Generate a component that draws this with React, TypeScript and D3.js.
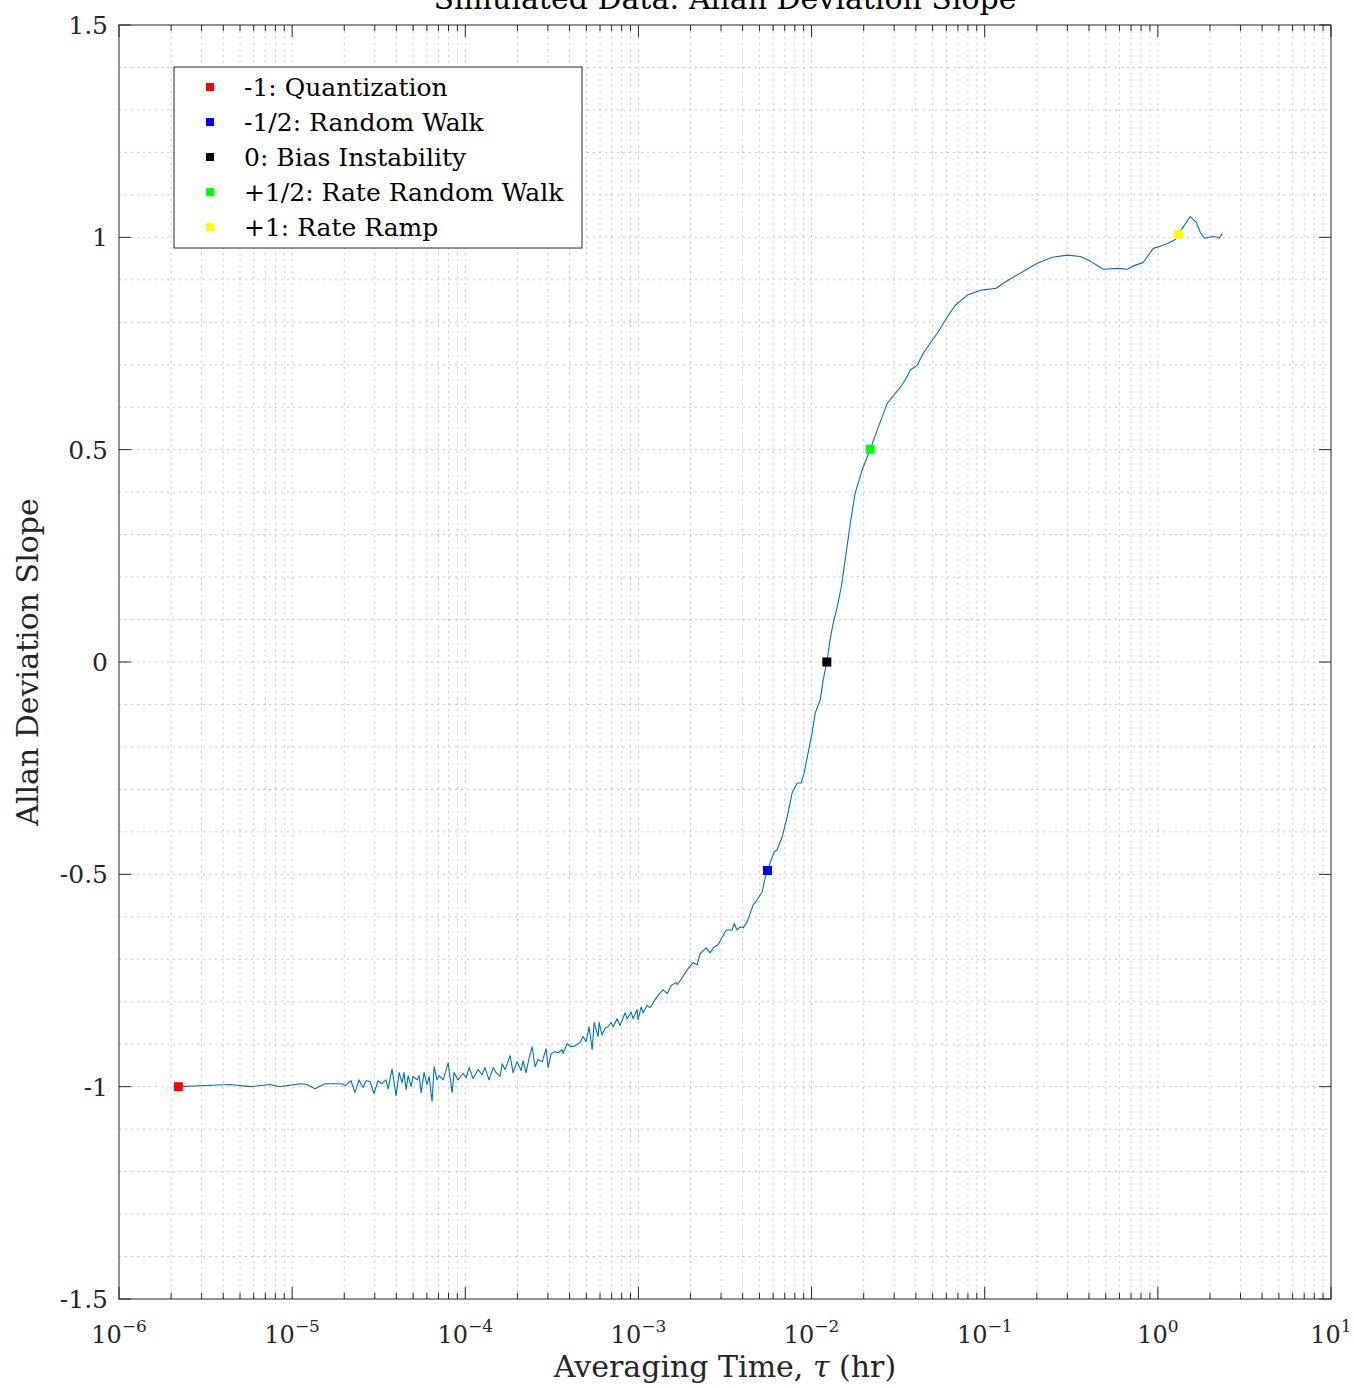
import React from 'react';
import * as d3 from 'd3';

// averaging time, stored as log10(tau / hr)
const tauExp = [
  -5.657, -5.532, -5.359, -5.243, -5.128, -5.070, -4.954, -4.914, -4.868, -4.810,
  -4.712, -4.694, -4.660, -4.637, -4.614, -4.590, -4.573, -4.550, -4.527, -4.504,
  -4.481, -4.458, -4.446, -4.423, -4.400, -4.382, -4.365, -4.354, -4.342, -4.330,
  -4.313, -4.302, -4.278, -4.267, -4.255, -4.238, -4.221, -4.209, -4.192, -4.180,
  -4.163, -4.151, -4.128, -4.099, -4.076, -4.065, -4.042, -4.013, -3.995, -3.978,
  -3.955, -3.926, -3.903, -3.886, -3.863, -3.839, -3.822, -3.799, -3.787, -3.770,
  -3.741, -3.724, -3.701, -3.678, -3.666, -3.649, -3.631, -3.614, -3.597, -3.579,
  -3.556, -3.533, -3.522, -3.504, -3.481, -3.464, -3.441, -3.435, -3.412, -3.389,
  -3.366, -3.337, -3.320, -3.302, -3.285, -3.267, -3.256, -3.233, -3.227, -3.210,
  -3.192, -3.175, -3.158, -3.146, -3.123, -3.106, -3.077, -3.065, -3.042, -3.031,
  -3.008, -3.002, -2.984, -2.973, -2.950, -2.932, -2.904, -2.875, -2.857, -2.834,
  -2.811, -2.782, -2.776, -2.748, -2.719, -2.684, -2.661, -2.644, -2.609, -2.586,
  -2.563, -2.540, -2.493, -2.459, -2.447, -2.430, -2.413, -2.395, -2.372, -2.337,
  -2.314, -2.285, -2.268, -2.255, -2.239, -2.216, -2.199, -2.170, -2.141, -2.112,
  -2.083, -2.060, -2.043, -2.020, -1.997, -1.979, -1.950, -1.933, -1.912, -1.893,
  -1.875, -1.852, -1.829, -1.806, -1.777, -1.748, -1.708, -1.661, -1.621, -1.563,
  -1.529, -1.488, -1.459, -1.430, -1.390, -1.355, -1.274, -1.217, -1.170, -1.101,
  -1.026, -0.934, -0.893, -0.835, -0.697, -0.610, -0.523, -0.448, -0.391, -0.315,
  -0.235, -0.177, -0.131, -0.084, -0.027, 0.014, 0.060, 0.101, 0.118, 0.141,
  0.187, 0.222, 0.245, 0.268, 0.297, 0.320, 0.343, 0.355, 0.372,
];

const slope = [
  -1.000, -0.998, -0.995, -1.000, -0.995, -1.000, -0.993, -0.995, -1.005, -0.993,
  -0.993, -0.998, -0.986, -1.014, -0.984, -1.002, -0.986, -0.988, -1.016, -0.986,
  -0.993, -0.984, -1.005, -0.958, -1.021, -0.967, -0.991, -0.967, -1.007, -0.974,
  -1.000, -0.976, -0.984, -0.974, -1.014, -0.967, -0.995, -0.976, -1.035, -0.953,
  -0.984, -0.974, -0.984, -0.944, -1.014, -0.967, -0.984, -0.969, -0.979, -0.955,
  -0.981, -0.960, -0.972, -0.955, -0.984, -0.955, -0.967, -0.976, -0.946, -0.960,
  -0.927, -0.967, -0.941, -0.962, -0.939, -0.967, -0.932, -0.906, -0.953, -0.936,
  -0.941, -0.911, -0.955, -0.922, -0.918, -0.920, -0.913, -0.922, -0.899, -0.906,
  -0.904, -0.896, -0.882, -0.894, -0.859, -0.913, -0.849, -0.882, -0.849, -0.878,
  -0.862, -0.859, -0.849, -0.859, -0.840, -0.856, -0.826, -0.840, -0.824, -0.840,
  -0.819, -0.842, -0.812, -0.826, -0.809, -0.814, -0.795, -0.779, -0.772, -0.781,
  -0.762, -0.755, -0.760, -0.744, -0.725, -0.708, -0.713, -0.687, -0.673, -0.685,
  -0.671, -0.666, -0.631, -0.631, -0.616, -0.631, -0.624, -0.626, -0.612, -0.572,
  -0.560, -0.541, -0.508, -0.491, -0.473, -0.447, -0.442, -0.412, -0.365, -0.308,
  -0.285, -0.285, -0.261, -0.214, -0.167, -0.120, -0.089, -0.042, 0.000, 0.052,
  0.092, 0.129, 0.176, 0.240, 0.325, 0.398, 0.452, 0.501, 0.546, 0.609,
  0.626, 0.647, 0.664, 0.687, 0.699, 0.727, 0.774, 0.812, 0.840, 0.864,
  0.875, 0.880, 0.892, 0.906, 0.939, 0.953, 0.958, 0.955, 0.944, 0.925,
  0.927, 0.925, 0.934, 0.941, 0.974, 0.979, 0.986, 0.995, 1.007, 1.021,
  1.049, 1.035, 1.012, 0.998, 1.000, 1.002, 1.000, 0.998, 1.009,
];

const markerTau = [2.2e-6, 5.56e-3, 1.225e-2, 2.18e-2, 1.31];
const markerSlope = [-1.0, -0.491, 0.0, 0.501, 1.007];
const markerColors = ['#ff0000', '#0000ff', '#000000', '#00ff00', '#ffff00'];
const legendLabels = [
  '-1: Quantization',
  '-1/2: Random Walk',
  '0: Bias Instability',
  '+1/2: Rate Random Walk',
  '+1: Rate Ramp',
];

const xDecades = [-6, -5, -4, -3, -2, -1, 0, 1];
const yTicks = [-1.5, -1, -0.5, 0, 0.5, 1, 1.5];
const yTickLabels = ['-1.5', '-1', '-0.5', '0', '0.5', '1', '1.5'];

const W = 1354, H = 1388;
const margin = { left: 119, top: 25, right: 23, bottom: 89 };
const font = "'DejaVu Serif', 'Liberation Serif', serif";
const axisColor = '#262626';
const gridColor = '#c8c8c8';

export default function App() {
  const x = d3.scaleLog().domain([1e-6, 10]).range([margin.left, W - margin.right]);
  const y = d3.scaleLinear().domain([-1.5, 1.5]).range([H - margin.bottom, margin.top]);
  const x0 = margin.left, x1 = W - margin.right, y0 = H - margin.bottom, y1 = margin.top;

  const points: [number, number][] = tauExp.map((e, i) => [Math.pow(10, e), slope[i]]);
  const line = d3.line<[number, number]>().x(d => x(d[0])).y(d => y(d[1]));

  const minorX: number[] = [];
  xDecades.slice(0, -1).forEach(d => {
    for (let k = 2; k <= 9; k++) minorX.push(k * Math.pow(10, d));
  });
  const gridY = d3.range(-14, 15).map(v => v / 10);

  const legend = { x: 174, y: 67, w: 408, h: 181, row: 35 };

  return (
    <div style={{ position: 'absolute', left: 0, top: 0 }}>
      <svg width={W} height={H} style={{ display: 'block', background: '#fff' }} fontFamily={font}>
        {/* grid */}
        <g stroke={gridColor} strokeWidth={1} strokeDasharray="2,4">
          {gridY.map(v => (
            <line key={'gy' + v} x1={x0} x2={x1} y1={y(v)} y2={y(v)} />
          ))}
          {xDecades.slice(1, -1).map(d => (
            <line key={'gx' + d} x1={x(Math.pow(10, d))} x2={x(Math.pow(10, d))} y1={y0} y2={y1} />
          ))}
          {minorX.map(v => (
            <line key={'mx' + v} x1={x(v)} x2={x(v)} y1={y0} y2={y1} />
          ))}
        </g>

        {/* ticks, all four sides */}
        <g stroke={axisColor} strokeWidth={1}>
          {xDecades.map(d => {
            const px = x(Math.pow(10, d));
            return (
              <g key={'tx' + d}>
                <line x1={px} x2={px} y1={y0} y2={y0 - 12} />
                <line x1={px} x2={px} y1={y1} y2={y1 + 12} />
              </g>
            );
          })}
          {minorX.map(v => (
            <g key={'tmx' + v}>
              <line x1={x(v)} x2={x(v)} y1={y0} y2={y0 - 6} />
              <line x1={x(v)} x2={x(v)} y1={y1} y2={y1 + 6} />
            </g>
          ))}
          {yTicks.map(v => (
            <g key={'ty' + v}>
              <line x1={x0} x2={x0 + 12} y1={y(v)} y2={y(v)} />
              <line x1={x1} x2={x1 - 12} y1={y(v)} y2={y(v)} />
            </g>
          ))}
        </g>

        {/* data */}
        <path d={line(points) || ''} fill="none" stroke="#0072bd" strokeWidth={1.1} strokeLinejoin="round" />
        {markerTau.map((t, i) => (
          <rect key={'m' + i} x={x(t) - 4.5} y={y(markerSlope[i]) - 4.5} width={9} height={9} fill={markerColors[i]} />
        ))}

        {/* box */}
        <rect x={x0} y={y1} width={x1 - x0} height={y0 - y1} fill="none" stroke={axisColor} strokeWidth={1} />

        {/* tick labels */}
        <g fill="#262626" fontSize={25}>
          {yTicks.map((v, i) => (
            <text key={'yl' + v} x={x0 - 11} y={y(v)} dy="0.36em" textAnchor="end">{yTickLabels[i]}</text>
          ))}
          {xDecades.map(d => (
            <text key={'xl' + d} x={x(Math.pow(10, d))} y={y0 + 44} fontSize={24} textAnchor="middle">
              10<tspan fontSize={17} dy={-11}>{d < 0 ? '\u2212' + Math.abs(d) : String(d)}</tspan>
            </text>
          ))}
        </g>

        {/* labels */}
        <text x={(x0 + x1) / 2} y={9} textAnchor="middle" fontSize={30} fill="#000">Simulated Data: Allan Deviation Slope</text>
        <text x={(x0 + x1) / 2} y={1377} textAnchor="middle" fontSize={30} fill="#262626">
          Averaging Time, <tspan fontStyle="italic">τ</tspan> (hr)
        </text>
        <text transform={`translate(38,${(y0 + y1) / 2}) rotate(-90)`} textAnchor="middle" fontSize={30} fill="#262626">
          Allan Deviation Slope
        </text>

        {/* legend */}
        <g>
          <rect x={legend.x} y={legend.y} width={legend.w} height={legend.h} fill="#fff" stroke={axisColor} strokeWidth={1} />
          {legendLabels.map((lab, i) => {
            const cy = legend.y + 20 + i * legend.row;
            return (
              <g key={'lg' + i}>
                <rect x={206} y={cy - 4} width={8} height={8} fill={markerColors[i]} />
                <text x={244} y={cy} dy="0.36em" fontSize={25} fill="#000">{lab}</text>
              </g>
            );
          })}
        </g>
      </svg>
    </div>
  );
}
